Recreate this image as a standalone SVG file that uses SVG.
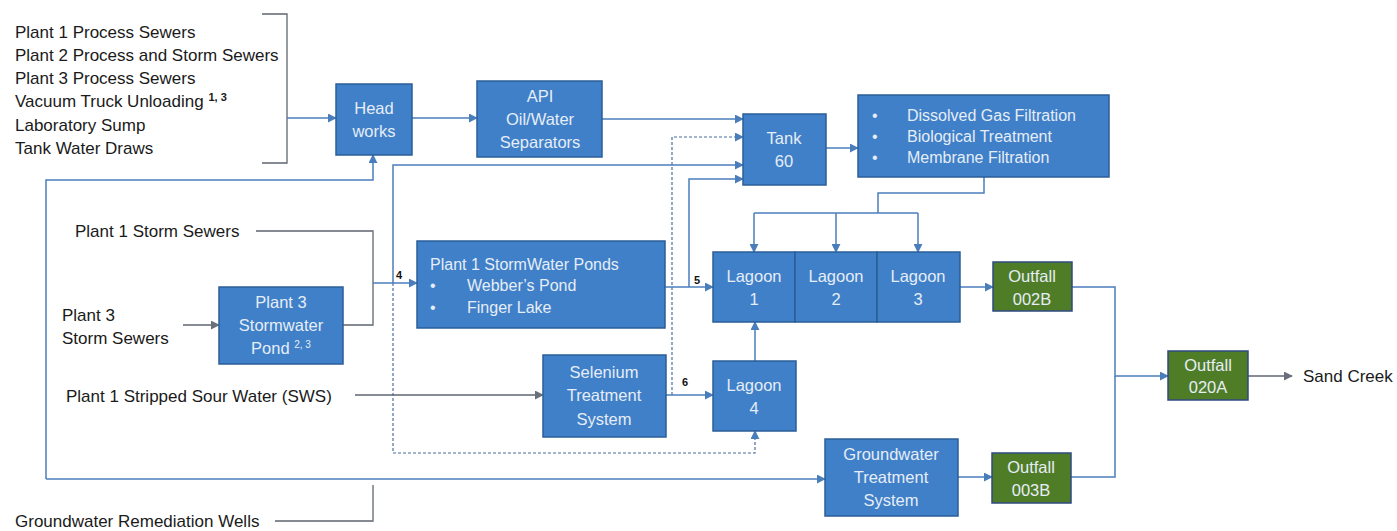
<svg xmlns="http://www.w3.org/2000/svg" width="1397" height="531" viewBox="0 0 1397 531">
<style>
.lbl{font-family:"Liberation Sans",Arial,sans-serif;font-size:17px;fill:#1a1a1a}
.bt{font-family:"Liberation Sans",Arial,sans-serif;font-size:16.5px;fill:#e6edf7;text-anchor:middle}
.bl{font-family:"Liberation Sans",Arial,sans-serif;font-size:16px;fill:#e6edf7}
.num{font-family:"Liberation Sans",Arial,sans-serif;font-size:11px;font-weight:bold;fill:#111}
.box{fill:#3f80c8;stroke:#2b5d98;stroke-width:1.5}
.grn{fill:#4f7d27;stroke:#2f4a80;stroke-width:1.5}
.c{fill:none;stroke:#4a7ebb;stroke-width:1.5}
.d{fill:none;stroke:#4a6e9e;stroke-width:1.2;stroke-dasharray:3 2}
.g{fill:none;stroke:#5f6670;stroke-width:1.3}
</style>
<defs>
<marker id="a" viewBox="0 0 10 10" refX="9" refY="5" markerWidth="9" markerHeight="9" markerUnits="userSpaceOnUse" orient="auto"><path d="M0,0 L10,5 L0,10 z" fill="#4a7ebb"/></marker>
<marker id="ag" viewBox="0 0 10 10" refX="9" refY="5" markerWidth="9" markerHeight="9" markerUnits="userSpaceOnUse" orient="auto"><path d="M0,0 L10,5 L0,10 z" fill="#6a707a"/></marker>
</defs>
<rect width="1397" height="531" fill="#ffffff"/>

<g id="connectors">
<path class="g" d="M262,14 H287 V163 H262"/>
<path class="c" d="M287,118 H336" marker-end="url(#a)"/>
<path class="c" d="M412,118 H477" marker-end="url(#a)"/>
<path class="c" d="M602,119 H743" marker-end="url(#a)"/>
<path class="d" d="M672,395 V137 H743" marker-end="url(#a)"/>
<path class="c" d="M393,283 V165 H743" marker-end="url(#a)"/>
<path class="c" d="M689,287 V179 H743" marker-end="url(#a)"/>
<path class="c" d="M826,148 H858" marker-end="url(#a)"/>
<path class="c" d="M984,177 V193 H878 V213"/>
<path class="c" d="M754,213 H918"/>
<path class="c" d="M754,213 V252" marker-end="url(#a)"/>
<path class="c" d="M836,213 V252" marker-end="url(#a)"/>
<path class="c" d="M918,213 V252" marker-end="url(#a)"/>
<path class="c" d="M665,287 H713" marker-end="url(#a)"/>
<path class="g" d="M256,231 H373 V325 H343"/>
<path class="c" d="M373,283 H417" marker-end="url(#a)"/>
<path class="g" d="M183,325 H219" marker-end="url(#ag)"/>
<path class="g" d="M355,395 H543" marker-end="url(#ag)"/>
<path class="c" d="M666,395 H713" marker-end="url(#a)"/>
<path class="c" d="M755,361 V322" marker-end="url(#a)"/>
<path class="d" d="M393,283 V453 H755 V431" marker-end="url(#a)"/>
<path class="c" d="M46,479 V180 H373 V155" marker-end="url(#a)"/>
<path class="c" d="M46,479 H825" marker-end="url(#a)"/>
<path class="g" d="M275,521 H373 V485"/>
<path class="c" d="M960,287 H993" marker-end="url(#a)"/>
<path class="c" d="M1072,287 H1115 V376 H1168" marker-end="url(#a)"/>
<path class="c" d="M958,477 H992" marker-end="url(#a)"/>
<path class="c" d="M1071,477 H1115 V376"/>
<path class="g" d="M1248,376 H1292" marker-end="url(#ag)"/>
<text class="num" x="396" y="279">4</text>
<text class="num" x="694" y="284">5</text>
<text class="num" x="682" y="386">6</text>
</g>

<g id="sources">
<text class="lbl" x="15" y="38">Plant 1 Process Sewers</text>
<text class="lbl" x="15" y="61">Plant 2 Process and Storm Sewers</text>
<text class="lbl" x="15" y="84">Plant 3 Process Sewers</text>
<text class="lbl" x="15" y="107">Vacuum Truck Unloading <tspan font-size="11" font-weight="bold" dy="-6">1, 3</tspan></text>
<text class="lbl" x="15" y="131">Laboratory Sump</text>
<text class="lbl" x="15" y="154">Tank Water Draws</text>
</g>
<g id="plant1-storm"><text class="lbl" x="75" y="237">Plant 1 Storm Sewers</text></g>
<g id="plant3-storm"><text class="lbl" x="62" y="321">Plant 3</text><text class="lbl" x="62" y="344">Storm Sewers</text></g>
<g id="sws"><text class="lbl" x="66" y="402">Plant 1 Stripped Sour Water (SWS)</text></g>
<g id="wells"><text class="lbl" x="15" y="527">Groundwater Remediation Wells</text></g>
<g id="sand-creek"><text class="lbl" x="1303" y="382">Sand Creek</text></g>

<g id="headworks"><rect class="box" x="336" y="84" width="76" height="71"/>
<text class="bt" x="374" y="114">Head</text><text class="bt" x="374" y="137">works</text></g>
<g id="api"><rect class="box" x="477" y="81" width="125" height="76"/>
<text class="bt" x="540" y="102">API</text><text class="bt" x="540" y="125">Oil/Water</text><text class="bt" x="540" y="148">Separators</text></g>
<g id="tank60"><rect class="box" x="743" y="114" width="83" height="71"/>
<text class="bt" x="784" y="144">Tank</text><text class="bt" x="784" y="167">60</text></g>
<g id="treatment"><rect class="box" x="858" y="95" width="251" height="82"/>
<text class="bl" x="872" y="121">•</text><text class="bl" x="907" y="121">Dissolved Gas Filtration</text>
<text class="bl" x="872" y="142">•</text><text class="bl" x="907" y="142">Biological Treatment</text>
<text class="bl" x="872" y="163">•</text><text class="bl" x="907" y="163">Membrane Filtration</text></g>
<g id="ponds"><rect class="box" x="417" y="241" width="248" height="87"/>
<text class="bl" x="430" y="270" font-size="17.5">Plant 1 StormWater Ponds</text>
<text class="bl" x="430" y="291">•</text><text class="bl" x="467" y="291">Webber’s Pond</text>
<text class="bl" x="430" y="313">•</text><text class="bl" x="467" y="313">Finger Lake</text></g>
<g id="plant3-pond"><rect class="box" x="219" y="287" width="124" height="77"/>
<text class="bt" x="281" y="308">Plant 3</text><text class="bt" x="281" y="331">Stormwater</text>
<text class="bt" x="281" y="354">Pond <tspan font-size="10" dy="-6">2, 3</tspan></text></g>
<g id="lagoon1"><rect class="box" x="713" y="252" width="82" height="70"/>
<text class="bt" x="754" y="282">Lagoon</text><text class="bt" x="754" y="305">1</text></g>
<g id="lagoon2"><rect class="box" x="795" y="252" width="82" height="70"/>
<text class="bt" x="836" y="282">Lagoon</text><text class="bt" x="836" y="305">2</text></g>
<g id="lagoon3"><rect class="box" x="877" y="252" width="83" height="70"/>
<text class="bt" x="918" y="282">Lagoon</text><text class="bt" x="918" y="305">3</text></g>
<g id="outfall002b"><rect class="grn" x="993" y="262" width="79" height="49"/>
<text class="bt" x="1032" y="282">Outfall</text><text class="bt" x="1032" y="305">002B</text></g>
<g id="selenium"><rect class="box" x="543" y="355" width="123" height="82"/>
<text class="bt" x="604" y="378">Selenium</text><text class="bt" x="604" y="401">Treatment</text><text class="bt" x="604" y="425">System</text></g>
<g id="lagoon4"><rect class="box" x="713" y="361" width="83" height="70"/>
<text class="bt" x="754" y="391">Lagoon</text><text class="bt" x="754" y="414">4</text></g>
<g id="gts"><rect class="box" x="825" y="439" width="133" height="77"/>
<text class="bt" x="891" y="460">Groundwater</text><text class="bt" x="891" y="483">Treatment</text><text class="bt" x="891" y="506">System</text></g>
<g id="outfall003b"><rect class="grn" x="992" y="453" width="79" height="50"/>
<text class="bt" x="1031" y="473">Outfall</text><text class="bt" x="1031" y="496">003B</text></g>
<g id="outfall020a"><rect class="grn" x="1168" y="351" width="80" height="49"/>
<text class="bt" x="1208" y="371">Outfall</text><text class="bt" x="1208" y="393">020A</text></g>
</svg>
